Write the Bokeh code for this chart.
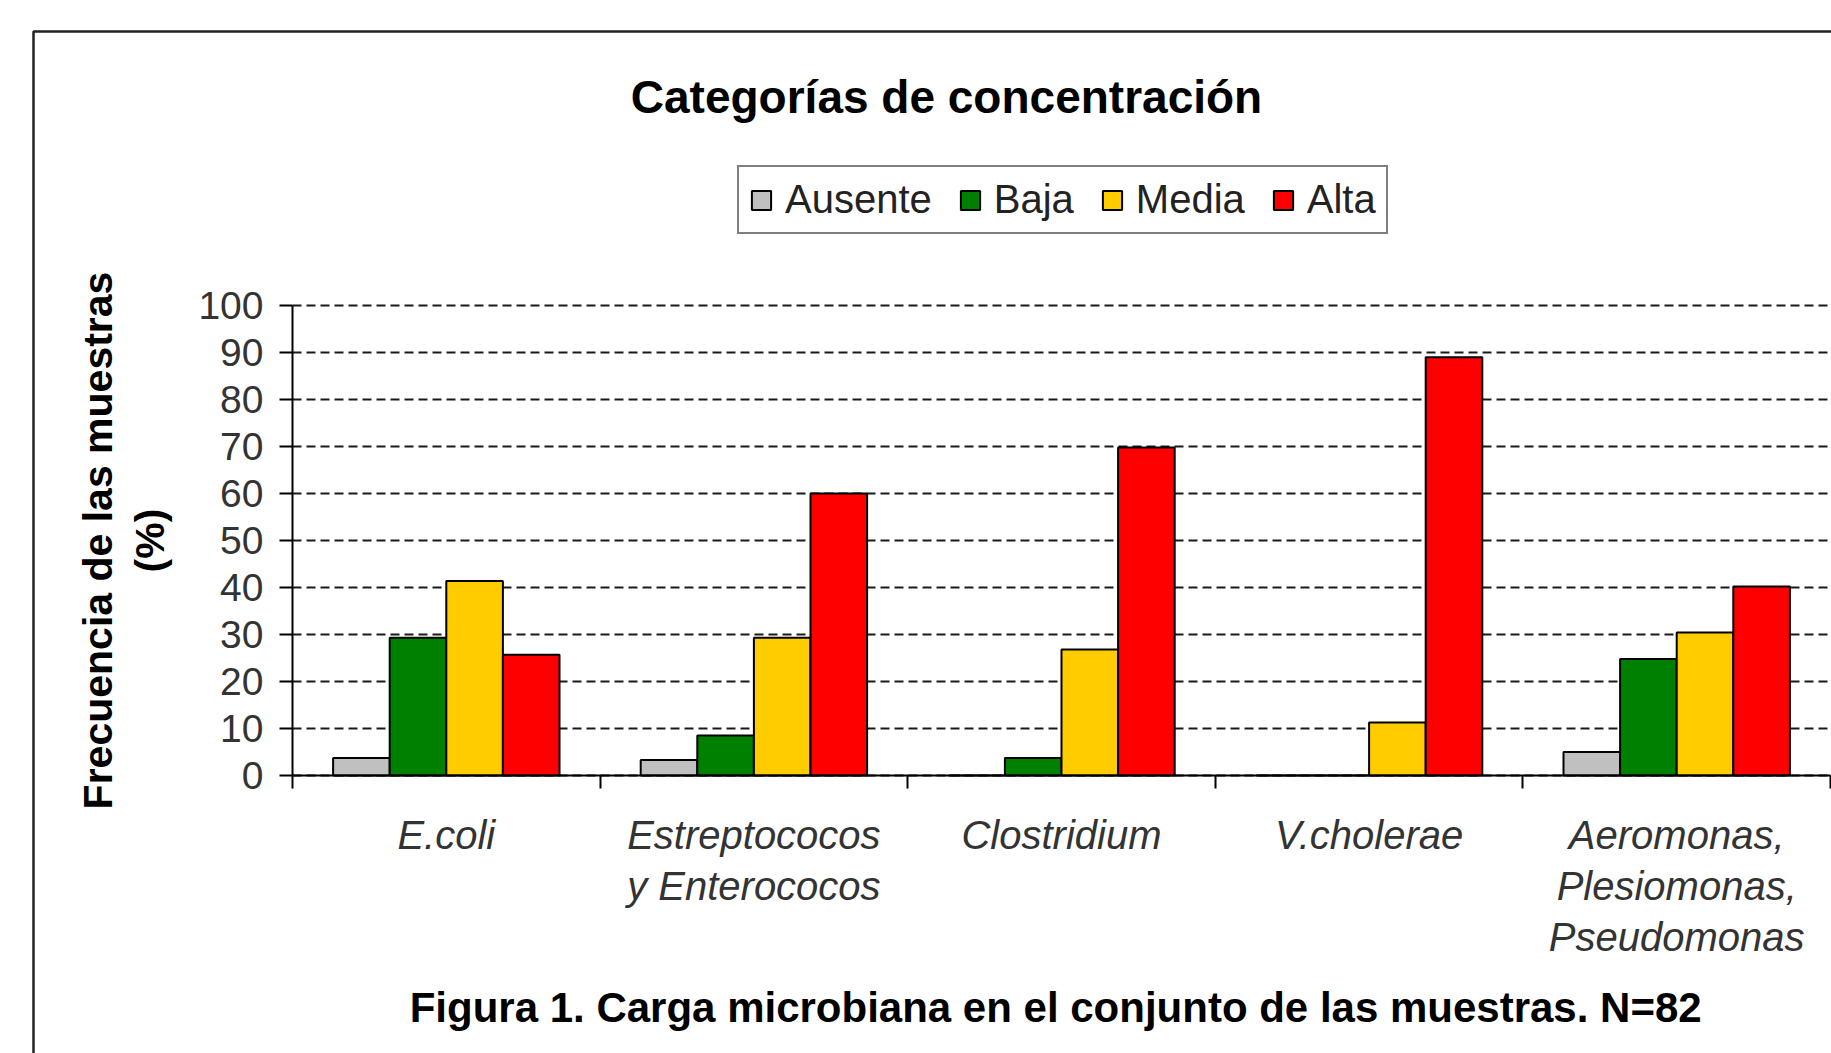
from bokeh.plotting import figure
from bokeh.models import (Range1d, LinearAxis, FixedTicker, Legend, LegendItem, Label,
                          BoxAnnotation, ColumnDataSource)
from bokeh.embed import file_html
from bokeh.resources import INLINE

# ---- data ----
categories = ["E.coli", "Estreptococos\ny Enterococos", "Clostridium", "V.cholerae",
              "Aeromonas,\nPlesiomonas,\nPseudomonas"]
series_names = ["Ausente", "Baja", "Media", "Alta"]
ausente = [3.7, 3.3, 0.0, 0.0, 5.0]
baja = [29.3, 8.5, 3.7, 0.0, 24.8]
media = [41.4, 29.3, 26.8, 11.3, 30.4]
alta = [25.7, 60.0, 69.8, 89.0, 40.2]
y_ticks = [0, 10, 20, 30, 40, 50, 60, 70, 80, 90, 100]
title_text = "Categorías de concentración"
caption_text = "Figura 1. Carga microbiana en el conjunto de  las muestras. N=82"
y_title = "Frecuencia de las muestras\n(%)"
colors = ["#C0C0C0", "#008000", "#FFCC00", "#FF0000"]

FONT = "Liberation Sans"
W, H = 1831, 1053
# layout (canvas pixels): plot area left edge, y=0 line, y=100 line, px per category
LEFT, Y0, Y100, KX = 292, 775, 305, 307.6
KY = (Y0 - Y100) / 100.0
n = len(categories)

p = figure(x_range=Range1d(-LEFT / KX, (W - LEFT) / KX),
           y_range=Range1d(-(H - Y0) / KY, 100 + Y100 / KY),
           width=W, height=H, output_backend="svg", toolbar_location=None,
           x_axis_location=None, y_axis_location=None, min_border=0)
p.outline_line_color = None
p.background_fill_color = "white"
p.border_fill_color = "white"
p.xgrid.visible = False

bar_w = 0.184
renderers = []
for i, (name, col, vals) in enumerate(zip(series_names, colors, [ausente, baja, media, alta])):
    off = 0.5 + (i - 1.5) * bar_w
    s = ColumnDataSource(dict(x=[k + off for k in range(n)], top=vals))
    r = p.vbar(x="x", top="top", width=bar_w, source=s,
               fill_color=col, line_color="black", line_width=2)
    renderers.append(r)

# grid
p.ygrid.ticker = FixedTicker(ticks=y_ticks)
p.ygrid.grid_line_color = "#1a1a1a"
p.ygrid.grid_line_width = 2
p.ygrid.grid_line_dash = "9 5"
p.ygrid.bounds = (0, 100)
if "cross_bounds" in p.ygrid[0].properties():
    p.ygrid.cross_bounds = (0, n)

# y axis
yax = LinearAxis(fixed_location=0, bounds=(0, 100), ticker=FixedTicker(ticks=y_ticks),
                 minor_tick_line_color=None, major_tick_out=13, major_tick_in=0,
                 axis_line_width=2, axis_line_color="black",
                 major_tick_line_width=2, major_tick_line_color="black",
                 major_label_text_font=FONT, major_label_text_font_size="39px",
                 major_label_text_color="#333333", major_label_standoff=16,
                 axis_label=y_title, axis_label_text_font=FONT,
                 axis_label_text_font_size="41px", axis_label_text_font_style="bold",
                 axis_label_text_color="black", axis_label_text_line_height=1.15,
                 axis_label_standoff=22)
p.add_layout(yax, "left")

# x axis: tick marks at category edges
edges = list(range(n + 1))
edge_axis = LinearAxis(fixed_location=0, bounds=(0, n), ticker=FixedTicker(ticks=edges),
                       major_label_overrides={e: "" for e in edges},
                       major_tick_out=13, major_tick_in=0, minor_tick_line_color=None,
                       axis_line_width=2, axis_line_color="black",
                       major_tick_line_width=2, major_tick_line_color="black",
                       major_label_standoff=0)
p.add_layout(edge_axis, "below")
# category labels at the centres
centers = [k + 0.5 for k in range(n)]
cat_axis = LinearAxis(fixed_location=0, ticker=FixedTicker(ticks=centers),
                      major_label_overrides=dict(zip(centers, categories)),
                      major_tick_out=0, major_tick_in=0, minor_tick_line_color=None,
                      axis_line_color=None, major_tick_line_color=None,
                      major_label_text_font=FONT, major_label_text_font_size="40px",
                      major_label_text_font_style="italic", major_label_text_color="#333333",
                      major_label_text_line_height=1.16, major_label_standoff=37)
p.add_layout(cat_axis, "below")

# legend
legend = Legend(items=[LegendItem(label=nm, renderers=[r]) for nm, r in zip(series_names, renderers)],
                orientation="horizontal", location=(737, H - 234), margin=0, padding=10,
                spacing=26, label_standoff=12, glyph_width=24, glyph_height=24,
                label_text_font=FONT, label_text_font_size="40px", label_text_color="#222222",
                border_line_color="black", border_line_width=2, background_fill_alpha=1)
p.add_layout(legend)

# titles
p.add_layout(Label(x=946, y=96, x_units="canvas", y_units="canvas", text=title_text,
                   text_align="center", text_baseline="alphabetic", text_font=FONT,
                   text_font_size="46px", text_font_style="bold", text_color="black"))
p.add_layout(Label(x=1061, y=1007, x_units="canvas", y_units="canvas", text=caption_text,
                   text_align="center", text_baseline="alphabetic", text_font=FONT,
                   text_font_size="42px", text_font_style="bold", text_color="black"))

# outer frame of the chart box
p.add_layout(BoxAnnotation(left=33, right=W + 60, top=31, bottom=H + 60,
                           left_units="canvas", right_units="canvas",
                           top_units="canvas", bottom_units="canvas",
                           fill_alpha=0, line_color="#222222", line_alpha=1, line_width=2.5))

open("out.html", "w").write(file_html(p, INLINE))
